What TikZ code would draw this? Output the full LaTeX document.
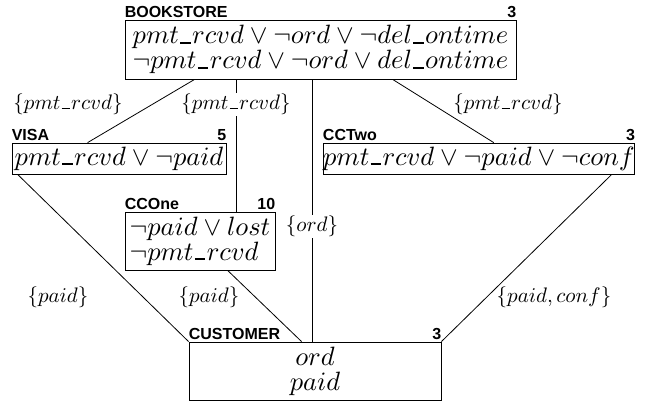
\documentclass[tikz,border=0pt]{standalone}
\usepackage{fontspec}
\newfontfamily\hdfont{Liberation Sans}
\DeclareFontShape{OML}{cmm}{m}{it}{<->cmmi10}{}
\DeclareFontShape{OMS}{cmsy}{m}{n}{<->cmsy10}{}
\newcommand\us{\mbox{\kern.05em\rule{.4em}{.07em}\kern.05em}}
\begin{document}
\begin{tikzpicture}[x=1pt,y=-1pt,
  box/.style={draw, line width=0.8pt, inner sep=0pt, font=\fontsize{26.5}{25}\selectfont},
  hd/.style={inner sep=0pt, font=\hdfont\bfseries\fontsize{16}{16}\selectfont},
  lbl/.style={inner sep=1pt, font=\fontsize{21}{21}\selectfont},
  wlbl/.style={lbl, fill=white},
  conn/.style={line width=0.8pt}]
\useasboundingbox (0,0) rectangle (655,408);

% boxes
\node[box, minimum width=391pt, minimum height=59pt, align=center] (bk) at (320.5,49.5)
  {$pmt\us rcvd\vee\neg ord\vee\neg del\us ontime$\\$\neg pmt\us rcvd\vee\neg ord\vee del\us ontime$};
\node[box, minimum width=214pt, minimum height=31pt] (visa) at (119,158.5)
  {$pmt\us rcvd\vee\neg paid$};
\node[box, minimum width=310pt, minimum height=31pt] (cctwo) at (479,158.5)
  {$pmt\us rcvd\vee\neg paid\vee\neg conf$};
\node[box, minimum width=150pt, minimum height=58pt, align=left] (ccone) at (200,241)
  {$\neg paid\vee lost$\\$\neg pmt\us rcvd$};
\node[box, minimum width=252pt, minimum height=58pt, align=center] (cust) at (315,371)
  {$ord$\\$paid$};

% headers
\node[hd, anchor=base west] (bkname) at ([yshift=2pt]bk.north west) {BOOKSTORE};
\node[hd, anchor=base east] (bknum) at ([yshift=2pt]bk.north east) {3};
\node[hd, anchor=base west] (visaname) at ([yshift=2pt]visa.north west) {VISA};
\node[hd, anchor=base east] (visanum) at ([yshift=2pt]visa.north east) {5};
\node[hd, anchor=base west] (cctwoname) at ([yshift=2pt]cctwo.north west) {CCTwo};
\node[hd, anchor=base east] (cctwonum) at ([yshift=2pt]cctwo.north east) {3};
\node[hd, anchor=base west] (cconename) at ([yshift=2pt]ccone.north west) {CCOne};
\node[hd, anchor=base east] (cconenum) at ([yshift=2pt]ccone.north east) {10};
\node[hd, anchor=base west] (custname) at ([yshift=2pt]cust.north west) {CUSTOMER};
\node[hd, anchor=base east] (custnum) at ([yshift=2pt]cust.north east) {3};

% connectors
\draw[conn] ([xshift=70pt]bk.south west) -- ([xshift=76pt]visa.north west);
\draw[conn] ([xshift=112pt]bk.south west) -- ([xshift=112pt]ccone.north west);
\draw[conn] ([xshift=188pt]bk.south west) -- ([xshift=124pt]cust.north west);
\draw[conn] ([xshift=268pt]bk.south west) -- ([xshift=171pt]cctwo.north west);
\draw[conn] ([xshift=6pt]visa.south west) -- (cust.north west);
\draw[conn] ([xshift=103pt]ccone.south west) -- ([xshift=113pt]cust.north west);
\draw[conn] ([xshift=289pt]cctwo.south west) -- (cust.north east);

% edge labels
\node[lbl] (l1) at (68,104) {$\{pmt\us rcvd\}$};
\node[wlbl] (l2) at (236,104) {$\{pmt\us rcvd\}$};
\node[lbl] (l3) at (508,104) {$\{pmt\us rcvd\}$};
\node[wlbl] (l4) at (312,226) {$\{ord\}$};
\node[lbl] (l5) at (58,297) {$\{paid\}$};
\node[lbl] (l6) at (209,297) {$\{paid\}$};
\node[lbl] (l7) at (554,297) {$\{paid, conf\}$};
\end{tikzpicture}
\end{document}
